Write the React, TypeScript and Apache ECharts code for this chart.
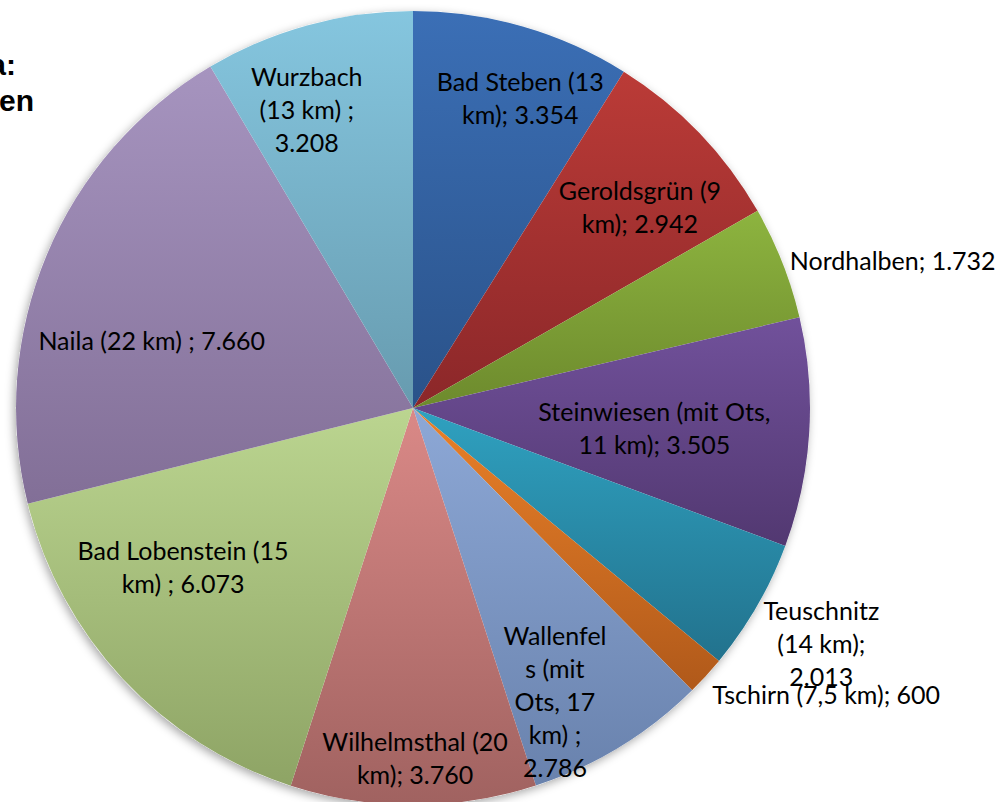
import React, { useEffect, useRef } from "react";
import * as echarts from "echarts";

// ---- data (clockwise from 12 o'clock) ----
const NAMES = [
  "Bad Steben (13 km)",
  "Geroldsgrün (9 km)",
  "Nordhalben",
  "Steinwiesen (mit Ots, 11 km)",
  "Teuschnitz (14 km)",
  "Tschirn (7,5 km)",
  "Wallenfels (mit Ots, 17 km) ",
  "Wilhelmsthal (20 km)",
  "Bad Lobenstein (15 km) ",
  "Naila (22 km) ",
  "Wurzbach (13 km) ",
];
const VALUES = [3354, 2942, 1732, 3505, 2013, 600, 2786, 3760, 6073, 7660, 3208];

const TITLE_LINES = [
  "Umgebung von Ludwigsstadt – Kreise Kronach, Hof und Saale-Orla:",
  "Einwohnerzahlen der Nachbargemeinden",
];

// ---- styles ----
const TOP_COLORS = ["#3B6FB6", "#BB3B37", "#8DB43F", "#71519B", "#2FA1C0", "#EA8129", "#8DA8D6", "#DA8987", "#BBD590", "#A694BF", "#85C6DF"];
const BOTTOM_COLORS = ["#2A5289", "#8B2729", "#6D8A2D", "#523871", "#22728D", "#B0591A", "#6982AD", "#A06260", "#8EA465", "#826F97", "#679BAF"];
// label placement: radius factor, angle shift (deg) from slice middle, max chars per line, alignment
const LABEL_RF = [0.828, 0.765, 1.02, 0.61, 1.187, 1.042, 0.82, 0.88, 0.703, 0.68, 0.8];
const LABEL_DA = [3.0, 2.2, 0, 1.1, 0, 1.2, 5.5, -0.3, 8.5, -8.1, -4.2];
const LABEL_CHARS = [15, 15, 99, 22, 10, 99, 9, 16, 18, 99, 9];
const LABEL_ALIGN = ["center", "center", "left", "center", "center", "left", "center", "center", "center", "center", "center"];

const CX = 413;
const CY = 408;
const R = 397;

function fmt(v: number): string {
  if (v < 1000) return String(v);
  return Math.floor(v / 1000) + "." + String(v % 1000).padStart(3, "0");
}

function wrap(text: string, max: number): string {
  const words = text.split(" ").filter((w) => w.length > 0);
  const lines: string[] = [];
  let line = "";
  for (let w of words) {
    if (line === "") {
      while (w.length > max) {
        lines.push(w.slice(0, max));
        w = w.slice(max);
      }
      line = w;
    } else if ((line + " " + w).length <= max) {
      line = line + " " + w;
    } else {
      lines.push(line);
      line = "";
      while (w.length > max) {
        lines.push(w.slice(0, max));
        w = w.slice(max);
      }
      line = w;
    }
  }
  if (line) lines.push(line);
  return lines.join("\n");
}

export default function App() {
  const ref = useRef<HTMLDivElement>(null);
  useEffect(() => {
    if (!ref.current) return;
    const chart = echarts.init(ref.current, undefined, { renderer: "svg" });
    const total = VALUES.reduce((a, b) => a + b, 0);
    const mids: number[] = [];
    let acc = 0;
    VALUES.forEach((v) => {
      mids.push(((acc + v / 2) / total) * 360);
      acc += v;
    });

    const data = VALUES.map((v, i) => ({
      name: NAMES[i],
      value: v,
      itemStyle: {
        color: new echarts.graphic.LinearGradient(0, 0, 0, 1, [
          { offset: 0, color: TOP_COLORS[i] },
          { offset: 1, color: BOTTOM_COLORS[i] },
        ]),
      },
    }));

    chart.setOption({
      animation: false,
      backgroundColor: "#ffffff",
      graphic: [
        {
          type: "text",
          x: 16,
          y: 64,
          style: {
            text: TITLE_LINES[0],
            align: "right",
            verticalAlign: "middle",
            fontFamily: "Liberation Sans",
            fontWeight: "bold",
            fontSize: 30,
            fill: "#000",
          },
        },
        {
          type: "text",
          x: 34,
          y: 100,
          style: {
            text: TITLE_LINES[1],
            align: "right",
            verticalAlign: "middle",
            fontFamily: "Liberation Sans",
            fontWeight: "bold",
            fontSize: 30,
            fill: "#000",
          },
        },
      ],
      series: [
        {
          type: "pie",
          silent: true,
          center: [CX, CY],
          radius: [0, R],
          label: { show: false },
          labelLine: { show: false },
          itemStyle: {
            color: "#ffffff",
            shadowBlur: 10,
            shadowOffsetX: -2,
            shadowOffsetY: 3,
            shadowColor: "rgba(0,0,0,0.35)",
          },
          data: [{ name: "", value: total }],
          z: 1,
        },
        {
          type: "pie",
          center: [CX, CY],
          radius: [0, R],
          startAngle: 90,
          clockwise: true,
          avoidLabelOverlap: false,
          itemStyle: { borderWidth: 0 },
          label: {
            show: true,
            position: "inside",
            color: "#000",
            fontFamily: "Lato",
            fontSize: 25,
            lineHeight: 33,
            formatter: (p: any) =>
              wrap(p.name + "; " + fmt(p.value), LABEL_CHARS[p.dataIndex]),
          },
          labelLine: { show: false },
          labelLayout: (p: any) => {
            if (p.seriesIndex !== 1) return {};
            const i = p.dataIndex;
            const a = ((mids[i] + LABEL_DA[i]) * Math.PI) / 180;
            const r = LABEL_RF[i] * R;
            return {
              x: CX + r * Math.sin(a),
              y: CY - r * Math.cos(a),
              align: LABEL_ALIGN[i],
              verticalAlign: "middle",
            };
          },
          data,
          z: 2,
        },
      ],
    });
    return () => chart.dispose();
  }, []);
  return (
    <div
      ref={ref}
      style={{ position: "absolute", left: 0, top: 0, width: 1000, height: 802 }}
    />
  );
}
